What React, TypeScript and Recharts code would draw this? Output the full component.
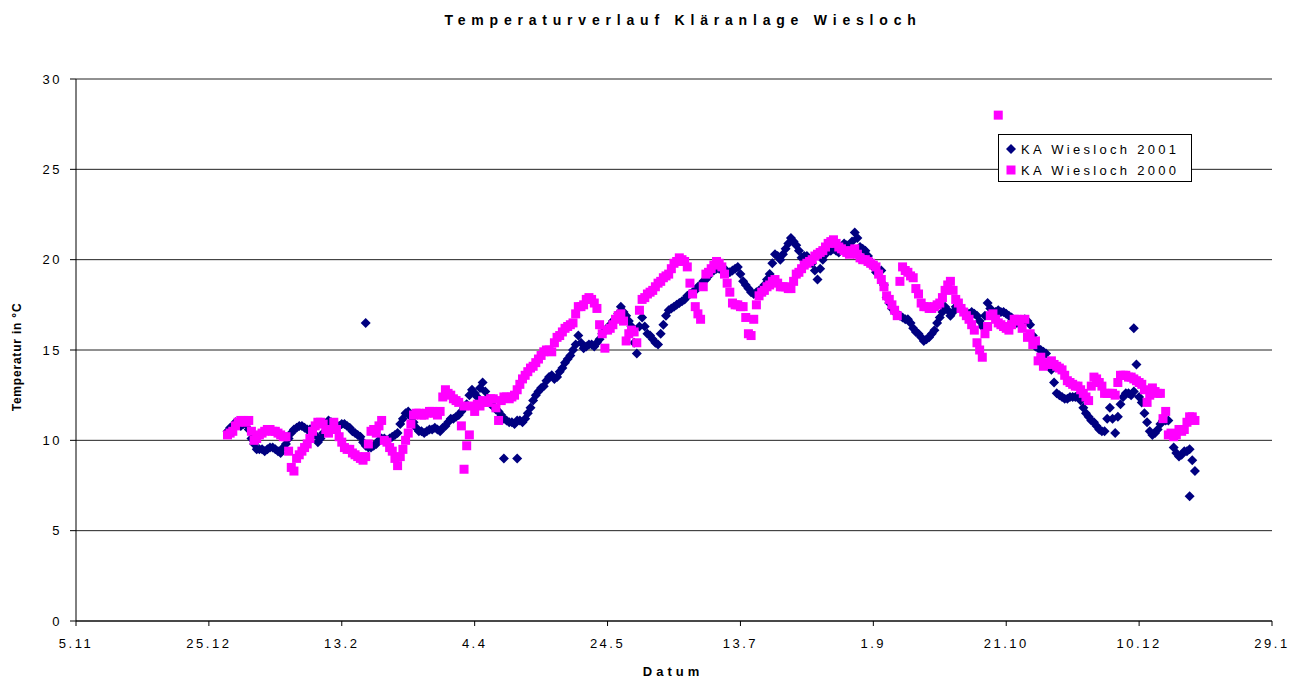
import React from 'react';
import { ScatterChart, Scatter, XAxis, YAxis, CartesianGrid, Legend, Customized } from 'recharts';

// Day numbers are counted from 5 November; 1 January is day 57.
const FIRST_DAY = 57;

const dateTicks = [0, 50, 100, 150, 200, 250, 300, 350, 400, 450];
const dateLabels = ['5.11', '25.12', '13.2', '4.4', '24.5', '13.7', '1.9', '21.10', '10.12', '29.1'];
const tempTicks = [0, 5, 10, 15, 20, 25, 30];

// 2001 readings on even days of the year (day 0 = 1 January)
const temps2001Even = [
  10.5, 10.8, 11.0, 10.9, 10.6, 9.8, 9.5, 9.4, 9.6, 9.5,
  9.3, 9.8, 10.4, 10.7, 10.8, 10.6, 10.7, 9.9, 10.4, 11.1,
  10.9, 10.8, 10.9, 10.7, 10.4, 10.2, 9.7, 9.6, 9.8, 10.1,
  10.0, 10.2, 10.4, 11.2, 11.6, 11.0, 10.5, 10.4, 10.6, 10.7,
  10.5, 10.8, 11.2, 11.3, 11.6, 12.0, 12.8, 12.4, 13.2, 12.3,
  11.9, 11.6, 11.2, 11.0, 10.9, 11.1, 11.2, 11.8, 12.5, 12.9,
  13.3, 13.6, 13.5, 14.0, 14.5, 15.0, 15.8, 15.1, 15.3, 15.2,
  15.6, 16.1, 16.4, 16.7, 17.4, 16.9, 16.3, 14.8, 16.8, 15.9,
  15.6, 15.3, 16.4, 17.2, 17.4, 17.6, 17.8, 18.1, 18.3, 18.6,
  18.9, 19.4, 19.5, 19.6, 19.3, 19.4, 19.6, 18.8, 18.4, 18.1,
  18.3, 18.6, 19.2, 20.3, 20.0, 20.6, 21.2, 20.8, 20.1, 20.2,
  19.8, 18.9, 20.0, 20.5, 20.6, 20.4, 20.9, 20.6, 21.5, 20.7,
  20.5, 19.9, 19.3, 19.4, 17.9, 17.3, 17.0, 16.8, 16.7, 16.2,
  15.9, 15.5, 15.7, 16.1, 16.8, 17.4, 16.9, 17.4, 17.3, 17.0,
  17.1, 16.9, 16.3, 17.6, 17.0, 17.2, 17.1, 16.9, 16.6, 16.5,
  16.7, 16.4, 15.2, 15.0, 14.8, 13.9, 12.6, 12.4, 12.3, 12.4,
  12.5, 11.8, 11.3, 11.0, 10.6, 10.5, 11.8, 10.4, 12.0, 12.6,
  12.5, 14.2, 12.1, 11.0, 10.3, 10.6, 11.1, 11.1, 9.6, 9.1,
  9.4, 9.5, 8.3,
];

// 2001 readings on odd days of the year
const temps2001Odd = [
  10.7, 11.0, 10.8, 10.9, 10.1, 9.5, 9.5, 9.5, 9.6, 9.4,
  9.6, 10.1, 10.6, 10.8, 10.7, 10.6, 10.3, 10.1, 10.9, 11.0,
  10.8, 10.9, 10.8, 10.5, 10.3, 9.9, 9.6, 9.7, 10.0, 10.1,
  10.1, 10.3, 10.9, 11.5, 11.3, 10.7, 10.5, 10.5, 10.6, 10.6,
  10.7, 11.0, 11.2, 11.4, 11.8, 12.5, 12.6, 12.9, 12.7, 12.0,
  11.7, 11.4, 11.1, 11.0, 11.1, 11.0, 11.5, 12.2, 12.7, 13.0,
  13.5, 13.4, 13.8, 14.3, 14.7, 15.3, 15.4, 15.2, 15.3, 15.4,
  15.9, 16.2, 16.6, 17.0, 17.1, 16.6, 15.4, 16.3, 16.3, 15.8,
  15.4, 15.9, 16.9, 17.3, 17.5, 17.7, 18.0, 18.2, 18.5, 18.8,
  19.1, 19.4, 19.5, 19.5, 19.3, 19.5, 19.2, 18.6, 18.2, 18.2,
  18.4, 18.9, 19.8, 20.2, 20.3, 20.9, 21.0, 20.5, 20.2, 20.0,
  19.4, 19.5, 20.3, 20.5, 20.5, 20.7, 20.8, 21.0, 21.2, 20.6,
  20.2, 19.6, 19.4, 18.6, 17.6, 17.1, 16.9, 16.7, 16.5, 16.0,
  15.7, 15.6, 15.9, 16.5, 17.1, 17.2, 17.1, 17.4, 17.1, 17.0,
  17.0, 16.6, 16.9, 17.3, 17.1, 17.1, 17.0, 16.8, 16.5, 16.6,
  16.6, 15.8, 15.1, 14.9, 14.3, 13.2, 12.5, 12.3, 12.4, 12.4,
  12.2, 11.5, 11.1, 10.8, 10.5, 11.2, 11.2, 11.3, 12.4, 12.6,
  12.7, 12.4, 11.5, 10.5, 10.4, 10.9, 11.1, 10.3, 9.3, 9.2,
  9.4, 8.9,
];

// 2000 readings on even days of the year
const temps2000Even = [
  10.3, 10.5, 11.0, 11.1, 11.1, 10.0, 10.3, 10.5, 10.6, 10.5,
  10.3, 10.2, 8.5, 9.0, 9.4, 9.8, 10.5, 11.0, 10.9, 10.4,
  11.0, 10.2, 9.6, 9.5, 9.2, 9.0, 9.1, 10.5, 10.4, 11.1,
  9.9, 9.4, 8.6, 9.5, 10.4, 11.4, 11.5, 11.4, 11.6, 11.5,
  11.6, 12.8, 12.5, 12.2, 10.8, 9.7, 11.9, 12.0, 12.2, 12.1,
  12.3, 11.1, 12.4, 12.3, 12.5, 13.1, 13.6, 14.0, 14.3, 14.7,
  15.0, 14.9, 15.7, 16.0, 16.3, 16.5, 17.4, 17.5, 17.9, 17.6,
  16.4, 15.1, 16.2, 16.7, 17.0, 15.5, 16.1, 15.4, 17.8, 18.1,
  18.3, 18.7, 19.0, 19.2, 19.8, 20.1, 19.9, 18.7, 17.4, 16.7,
  19.2, 19.5, 19.9, 19.6, 18.7, 17.6, 17.5, 17.4, 15.9, 16.7,
  18.0, 18.3, 18.6, 18.9, 18.5, 18.5, 18.4, 19.2, 19.5, 19.8,
  20.0, 20.3, 20.5, 20.9, 21.1, 20.7, 20.5, 20.3, 20.6, 20.1,
  20.0, 19.8, 19.6, 18.9, 18.0, 17.5, 16.9, 19.6, 19.3, 19.0,
  18.1, 17.4, 17.3, 17.4, 17.6, 18.3, 18.8, 17.8, 17.3, 16.9,
  16.4, 15.4, 14.6, 16.3, 17.0, 16.5, 16.3, 16.1, 16.7, 16.6,
  16.7, 15.9, 15.5, 14.6, 14.2, 14.4, 14.1, 13.9, 13.3, 13.1,
  13.0, 12.6, 12.2, 13.5, 13.2, 12.6, 12.6, 12.5, 13.6, 13.6,
  13.5, 13.3, 13.1, 12.1, 12.9, 12.6, 11.2, 10.3, 10.2, 10.6,
  10.6, 11.3, 11.1,
];

// 2000 readings on odd days of the year
const temps2000Odd = [
  10.4, 10.8, 11.1, 11.0, 10.5, 10.1, 10.4, 10.6, 10.5, 10.4,
  10.2, 9.4, 8.3, 9.2, 9.6, 10.1, 10.8, 11.0, 10.6, 10.6,
  10.6, 9.9, 9.5, 9.3, 9.1, 8.9, 9.8, 10.6, 10.8, 10.0,
  9.6, 9.0, 9.1, 10.0, 10.9, 11.5, 11.4, 11.5, 11.6, 11.4,
  12.4, 12.6, 12.3, 12.1, 11.9, 10.3, 11.6, 11.9, 12.1, 12.3,
  11.8, 12.2, 12.4, 12.4, 12.8, 13.4, 13.8, 14.1, 14.5, 14.9,
  15.0, 15.4, 15.8, 16.2, 16.4, 17.0, 17.4, 17.8, 17.8, 17.3,
  15.9, 16.1, 16.4, 16.9, 16.6, 15.9, 16.0, 17.2, 17.9, 18.2,
  18.5, 18.8, 19.1, 19.5, 19.9, 20.0, 19.6, 18.1, 17.0, 18.5,
  19.3, 19.7, 19.8, 19.2, 18.2, 17.5, 17.4, 16.8, 15.8, 17.5,
  18.2, 18.5, 18.8, 18.7, 18.5, 18.4, 18.8, 19.3, 19.7, 19.9,
  20.2, 20.4, 20.7, 21.0, 20.9, 20.6, 20.4, 20.5, 20.3, 20.0,
  19.9, 19.7, 19.2, 18.5, 17.8, 17.2, 18.8, 19.4, 19.1, 18.4,
  17.6, 17.4, 17.3, 17.5, 17.9, 18.6, 18.3, 17.6, 17.1, 16.7,
  16.1, 15.0, 15.9, 16.9, 16.7, 16.4, 16.2, 16.4, 16.7, 16.2,
  15.7, 15.3, 14.4, 14.1, 14.3, 14.2, 14.0, 13.6, 13.2, 13.0,
  12.8, 12.4, 13.0, 13.4, 13.0, 12.6, 12.6, 13.2, 13.6, 13.5,
  13.4, 13.2, 12.8, 12.5, 12.7, 12.6, 11.6, 10.4, 10.3, 10.5,
  11.0, 11.3,
];

// Single readings standing apart from the rest (day of year, °C)
const extraDays2001 = [52, 104, 109, 341, 362];
const extraTemps2001 = [16.5, 9.0, 9.0, 16.2, 6.9];
const extraDays2000 = [89, 290];
const extraTemps2000 = [8.4, 28.0];

const NAVY = '#000080';
const MAGENTA = '#FF00FF';
const FONT = '"Liberation Sans", Arial, Helvetica, sans-serif';

const buildSeries = (even: number[], odd: number[], extraDays: number[], extraTemps: number[]) => [
  ...even.map((t, k) => ({ day: FIRST_DAY + 2 * k, temp: t })),
  ...odd.map((t, k) => ({ day: FIRST_DAY + 2 * k + 1, temp: t })),
  ...extraDays.map((d, k) => ({ day: FIRST_DAY + d, temp: extraTemps[k] })),
];

const data2001 = buildSeries(temps2001Even, temps2001Odd, extraDays2001, extraTemps2001);
const data2000 = buildSeries(temps2000Even, temps2000Odd, extraDays2000, extraTemps2000);

const DiamondMark = (props: any) => {
  const { cx, cy } = props;
  if (cx == null || cy == null) return <g />;
  const r = 5;
  return (
    <polygon
      points={`${cx},${cy - r} ${cx + r},${cy} ${cx},${cy + r} ${cx - r},${cy}`}
      fill={NAVY}
    />
  );
};

const SquareMark = (props: any) => {
  const { cx, cy } = props;
  if (cx == null || cy == null) return <g />;
  const h = 4.5;
  return <rect x={cx - h} y={cy - h} width={h * 2} height={h * 2} fill={MAGENTA} />;
};

const LegendBox = () => (
  <div
    style={{
      width: 194,
      height: 48,
      boxSizing: 'border-box',
      border: '1px solid #000',
      background: '#fff',
      fontFamily: FONT,
      fontSize: 13,
      letterSpacing: '3.3px',
      color: '#000',
      padding: '4px 0 0 6px',
      whiteSpace: 'nowrap',
    }}
  >
    <div style={{ display: 'flex', alignItems: 'center', height: 20 }}>
      <svg width={14} height={12} style={{ marginRight: 2 }}>
        <polygon points="6,1 11,6 6,11 1,6" fill={NAVY} />
      </svg>
      <span>KA Wiesloch 2001</span>
    </div>
    <div style={{ display: 'flex', alignItems: 'center', height: 22 }}>
      <svg width={14} height={12} style={{ marginRight: 2 }}>
        <rect x={1.5} y={1.5} width={9} height={9} fill={MAGENTA} />
      </svg>
      <span>KA Wiesloch 2000</span>
    </div>
  </div>
);

const Titles = () => (
  <g fontFamily={FONT} fill="#000">
    <text x={683} y={25} textAnchor="middle" fontSize={14} fontWeight="bold" style={{ letterSpacing: '5.8px' }}>
      Temperaturverlauf Kläranlage Wiesloch
    </text>
    <text x={673} y={676} textAnchor="middle" fontSize={13} fontWeight="bold" style={{ letterSpacing: '4px' }}>
      Datum
    </text>
    <text
      x={0}
      y={0}
      transform="translate(21,357) rotate(-90)"
      textAnchor="middle"
      fontSize={12}
      fontWeight="bold"
      style={{ letterSpacing: '0.8px' }}
    >
      Temperatur in °C
    </text>
  </g>
);

const tickStyle = { fontFamily: FONT, fontSize: 13, fill: '#000', letterSpacing: '2.5px' };

export default function App() {
  return (
    <div style={{ position: 'absolute', left: 0, top: 0, width: 1299, height: 679, background: '#fff' }}>
      <ScatterChart width={1299} height={679} margin={{ top: 79, right: 27, bottom: 28, left: 0 }}>
        <CartesianGrid horizontal vertical={false} stroke="#222" strokeWidth={1} />
        <XAxis
          type="number"
          dataKey="day"
          domain={[0, 450]}
          ticks={dateTicks}
          tickFormatter={(v: number) => dateLabels[dateTicks.indexOf(v)] ?? ''}
          height={30}
          tickSize={5}
          tickMargin={13}
          axisLine={{ stroke: '#000' }}
          tickLine={{ stroke: '#000' }}
          tick={tickStyle}
          interval={0}
        />
        <YAxis
          type="number"
          dataKey="temp"
          domain={[0, 30]}
          ticks={tempTicks}
          width={76}
          tickSize={6}
          tickMargin={8}
          axisLine={{ stroke: '#000' }}
          tickLine={{ stroke: '#000' }}
          tick={tickStyle}
          interval={0}
        />
        <Scatter name="KA Wiesloch 2001" data={data2001} shape={DiamondMark} isAnimationActive={false} />
        <Scatter name="KA Wiesloch 2000" data={data2000} shape={SquareMark} isAnimationActive={false} />
        <Legend
          layout="horizontal"
          verticalAlign="middle"
          align="center"
          content={<LegendBox />}
          wrapperStyle={{ position: 'absolute', left: 998, top: 134, width: 194, height: 48 }}
        />
        <Customized component={<Titles />} />
      </ScatterChart>
    </div>
  );
}
